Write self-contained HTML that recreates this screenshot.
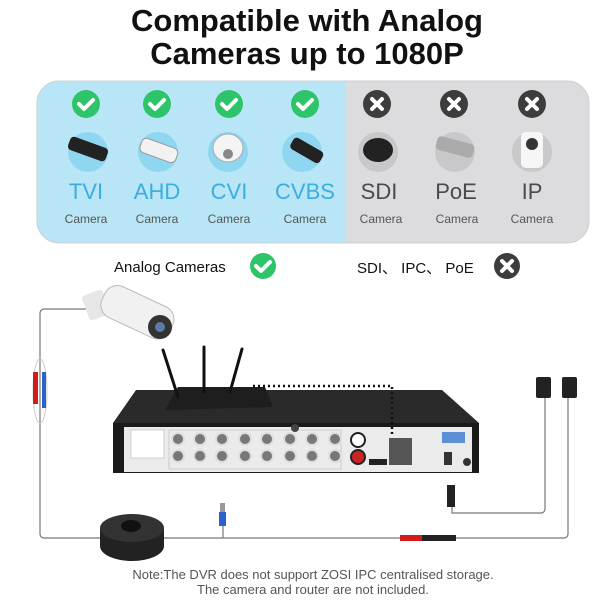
<!DOCTYPE html>
<html><head><meta charset="utf-8"><style>
html,body{margin:0;padding:0;background:#fff;}
svg{display:block;font-family:"Liberation Sans",sans-serif;}
</style></head><body>
<svg width="600" height="600" viewBox="0 0 600 600" xmlns="http://www.w3.org/2000/svg">
<defs>
<clipPath id="pc"><rect x="37" y="81" width="552" height="162" rx="22"/></clipPath>
</defs>
<text x="307" y="31" font-size="31" font-weight="bold" text-anchor="middle" fill="#111">Compatible with Analog</text>
<text x="307" y="64" font-size="31" font-weight="bold" text-anchor="middle" fill="#111">Cameras up to 1080P</text>
<g clip-path="url(#pc)">
<rect x="37" y="81" width="552" height="162" fill="#dcdcde"/>
<rect x="37" y="81" width="309" height="162" fill="#b8e6f7"/>
</g>
<rect x="37" y="81" width="552" height="162" rx="22" fill="none" stroke="#cfcfcf" stroke-width="1"/>
<g fill="#2ec56a">
<circle cx="86" cy="104" r="14"/><circle cx="157" cy="104" r="14"/><circle cx="229" cy="104" r="14"/><circle cx="305" cy="104" r="14"/>
</g>
<g stroke="#fff" stroke-width="4" fill="none" stroke-linecap="round" stroke-linejoin="round">
<path d="M79 104l5 5 9-9"/><path d="M150 104l5 5 9-9"/><path d="M222 104l5 5 9-9"/><path d="M298 104l5 5 9-9"/>
</g>
<g fill="#3d3d3d"><circle cx="377" cy="104" r="14"/><circle cx="454" cy="104" r="14"/><circle cx="532" cy="104" r="14"/></g>
<g stroke="#fff" stroke-width="4" stroke-linecap="round">
<path d="M372 99l10 10M382 99l-10 10"/><path d="M449 99l10 10M459 99l-10 10"/><path d="M527 99l10 10M537 99l-10 10"/>
</g>
<g fill="#8fd6f0"><circle cx="88" cy="152" r="20"/><circle cx="158" cy="152" r="20"/><circle cx="228" cy="152" r="20"/><circle cx="302" cy="152" r="20"/></g>
<g fill="#c8c8ca"><circle cx="378" cy="152" r="20"/><circle cx="455" cy="152" r="20"/><circle cx="532" cy="152" r="20"/></g>
<g fill="#222">
<rect x="68" y="142" width="40" height="14" rx="4" transform="rotate(20 88 149)"/>
<rect x="290" y="144" width="34" height="13" rx="4" transform="rotate(30 307 150)"/>
<ellipse cx="378" cy="150" rx="15" ry="12"/>
</g>
<rect x="140" y="143" width="38" height="15" rx="5" fill="#f2f2f2" stroke="#999" transform="rotate(20 159 150)"/>
<ellipse cx="228" cy="148" rx="15" ry="14" fill="#f4f4f4" stroke="#aaa"/>
<circle cx="228" cy="154" r="5" fill="#888"/>
<rect x="436" y="140" width="38" height="14" rx="4" fill="#aaa" transform="rotate(15 455 147)"/>
<rect x="521" y="132" width="22" height="36" rx="5" fill="#f6f6f6"/>
<circle cx="532" cy="144" r="6" fill="#333"/>
<g font-size="22" text-anchor="middle" fill="#3aaee0">
<text x="86" y="199">TVI</text><text x="157" y="199">AHD</text><text x="229" y="199">CVI</text><text x="305" y="199">CVBS</text>
</g>
<g font-size="22" text-anchor="middle" fill="#4a4a4a">
<text x="379" y="199">SDI</text><text x="456" y="199">PoE</text><text x="532" y="199">IP</text>
</g>
<g font-size="12" text-anchor="middle" fill="#555">
<text x="86" y="223">Camera</text><text x="157" y="223">Camera</text><text x="229" y="223">Camera</text><text x="305" y="223">Camera</text>
<text x="381" y="223">Camera</text><text x="457" y="223">Camera</text><text x="532" y="223">Camera</text>
</g>
<text x="114" y="272" font-size="15" fill="#111">Analog Cameras</text>
<circle cx="263" cy="266" r="13" fill="#2ec56a"/>
<path d="M256 266l5 5 9-9" stroke="#fff" stroke-width="4" fill="none" stroke-linecap="round" stroke-linejoin="round"/>
<text x="357" y="273" font-size="15" fill="#111">SDI、 IPC、 PoE</text>
<circle cx="507" cy="266" r="13" fill="#3d3d3d"/>
<path d="M502 261l10 10M512 261l-10 10" stroke="#fff" stroke-width="4" stroke-linecap="round"/>
<!-- cables -->
<path d="M88 309H44a4 4 0 0 0-4 4V534a4 4 0 0 0 4 4H564a4 4 0 0 0 4-4V396" fill="none" stroke="#777" stroke-width="1.2"/>
<path d="M545 396V509a4 4 0 0 1-4 4H452V505" fill="none" stroke="#777" stroke-width="1.2"/>
<line x1="223" y1="520" x2="223" y2="538" stroke="#777" stroke-width="1.2"/>
<ellipse cx="40" cy="391" rx="7" ry="32" fill="none" stroke="#ccc"/>
<rect x="33" y="372" width="5" height="32" fill="#d21c1c"/>
<rect x="42" y="372" width="4" height="36" fill="#2b62c9"/>
<rect x="220" y="503" width="5" height="10" fill="#999"/>
<rect x="219" y="512" width="7" height="14" fill="#2b62c9"/>
<rect x="400" y="535" width="22" height="6" fill="#d21c1c"/>
<rect x="422" y="535" width="34" height="6" fill="#222"/>
<rect x="447" y="485" width="8" height="22" fill="#222"/>
<rect x="536" y="377" width="15" height="21" rx="2" fill="#222"/>
<rect x="562" y="377" width="15" height="21" rx="2" fill="#222"/>
<!-- spool -->
<ellipse cx="132" cy="546" rx="32" ry="15" fill="#222"/>
<rect x="100" y="528" width="64" height="18" fill="#222"/>
<ellipse cx="132" cy="528" rx="32" ry="14" fill="#333"/>
<ellipse cx="131" cy="526" rx="10" ry="6" fill="#111"/>
<!-- camera -->
<rect x="85" y="292" width="22" height="26" rx="3" fill="#e6e6e6" transform="rotate(-20 96 305)"/>
<rect x="100" y="295" width="75" height="34" rx="14" fill="#f1f1f1" stroke="#bbb" transform="rotate(25 137 312)"/>
<circle cx="160" cy="327" r="12" fill="#333"/>
<circle cx="160" cy="327" r="5" fill="#5a7ba8"/>
<!-- DVR -->
<polygon points="113,423 136,390 442,390 479,423" fill="#2a2a2a"/>
<rect x="113" y="423" width="366" height="50" fill="#1a1a1a"/>
<rect x="124" y="427" width="348" height="45" fill="#ebebeb"/>
<rect x="131" y="430" width="33" height="28" fill="#fff" stroke="#aaa" stroke-width="0.5"/>
<rect x="169" y="430" width="172" height="39" fill="none" stroke="#bbb" stroke-width="0.6"/>
<g fill="#777" stroke="#ddd" stroke-width="2">
<circle cx="178" cy="439" r="6"/><circle cx="200" cy="439" r="6"/><circle cx="222" cy="439" r="6"/><circle cx="245" cy="439" r="6"/><circle cx="267" cy="439" r="6"/><circle cx="290" cy="439" r="6"/><circle cx="312" cy="439" r="6"/><circle cx="335" cy="439" r="6"/>
<circle cx="178" cy="456" r="6"/><circle cx="200" cy="456" r="6"/><circle cx="222" cy="456" r="6"/><circle cx="245" cy="456" r="6"/><circle cx="267" cy="456" r="6"/><circle cx="290" cy="456" r="6"/><circle cx="312" cy="456" r="6"/><circle cx="335" cy="456" r="6"/>
</g>
<circle cx="358" cy="440" r="7" fill="#fff" stroke="#222" stroke-width="2"/>
<circle cx="358" cy="457" r="7" fill="#c22" stroke="#222" stroke-width="2"/>
<rect x="369" y="459" width="18" height="6" fill="#222"/>
<rect x="389" y="438" width="23" height="27" fill="#555"/>
<rect x="442" y="432" width="23" height="11" fill="#5b8fd6"/>
<rect x="444" y="452" width="8" height="13" fill="#333"/>
<circle cx="467" cy="462" r="4" fill="#333"/>
<circle cx="295" cy="428" r="4" fill="#444"/>
<!-- router -->
<polygon points="165,410 178,387 265,387 273,407" fill="#1e1e1e"/>
<g stroke="#111" stroke-width="3" stroke-linecap="round">
<line x1="178" y1="397" x2="163" y2="350"/><line x1="204" y1="392" x2="204" y2="347"/><line x1="230" y1="392" x2="242" y2="349"/>
</g>
<path d="M253 386H392V437" fill="none" stroke="#111" stroke-width="2.5" stroke-dasharray="2,3"/>
<text x="313" y="579" font-size="13" text-anchor="middle" fill="#555">Note:The DVR does not support ZOSI IPC centralised storage.</text>
<text x="313" y="594" font-size="13" text-anchor="middle" fill="#555">The camera and router are not included.</text>
</svg>
</body></html>
